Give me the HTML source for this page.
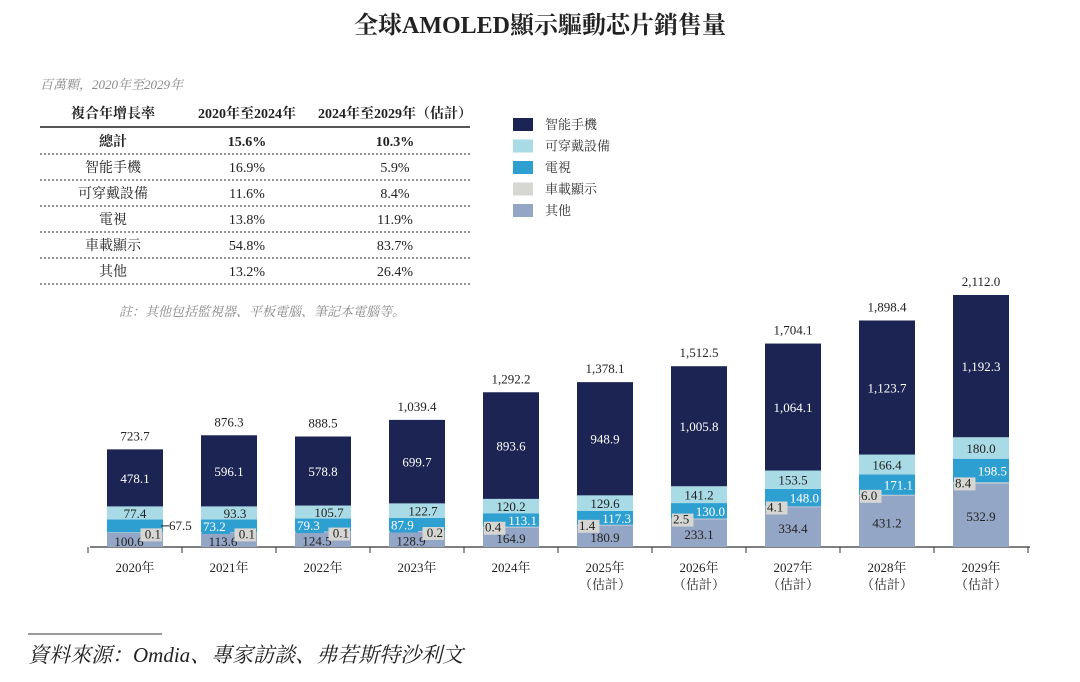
<!DOCTYPE html>
<html><head><meta charset="utf-8"><style>
body{margin:0;background:#fff;width:1080px;height:677px;overflow:hidden;font-family:"Liberation Serif","Noto Serif CJK SC",serif;}
svg text{font-family:"Liberation Serif","Noto Serif CJK SC",serif;}
</style></head><body>
<svg id="c" width="1080" height="677" viewBox="0 0 1080 677">
<text x="540" y="33" text-anchor="middle" font-size="24" font-weight="bold" fill="#222">全球AMOLED顯示驅動芯片銷售量</text>
<text x="40" y="89" font-size="13" font-style="italic" fill="#888">百萬顆，2020年至2029年</text>
<g id="tbl"></g>
<text x="262" y="316" text-anchor="middle" font-size="13" font-style="italic" fill="#888">註：其他包括監視器、平板電腦、筆記本電腦等。</text>
<g id="legend"></g>
<g id="bars"></g>
<line x1="28" y1="634" x2="162" y2="634" stroke="#333" stroke-width="1"/>
<text x="28" y="662" font-size="21" font-style="italic" fill="#222">資料來源：Omdia、專家訪談、弗若斯特沙利文</text>
</svg>
<script>
const categories=["2020年","2021年","2022年","2023年","2024年","2025年","2026年","2027年","2028年","2029年"];
const estimated=[false,false,false,false,false,true,true,true,true,true];
const other=[100.6,113.6,124.5,128.9,164.9,180.9,233.1,334.4,431.2,532.9];
const car=[0.1,0.1,0.1,0.2,0.4,1.4,2.5,4.1,6.0,8.4];
const tv=[67.5,73.2,79.3,87.9,113.1,117.3,130.0,148.0,171.1,198.5];
const wear=[77.4,93.3,105.7,122.7,120.2,129.6,141.2,153.5,166.4,180.0];
const phone=[478.1,596.1,578.8,699.7,893.6,948.9,1005.8,1064.1,1123.7,1192.3];
const totals=[723.7,876.3,888.5,1039.4,1292.2,1378.1,1512.5,1704.1,1898.4,2112.0];
const seriesNames=["智能手機","可穿戴設備","電視","車載顯示","其他"];
const tblHead=["複合年增長率","2020年至2024年","2024年至2029年（估計）"];
const tblRows=[["總計","15.6%","10.3%"],["智能手機","16.9%","5.9%"],["可穿戴設備","11.6%","8.4%"],["電視","13.8%","11.9%"],["車載顯示","54.8%","83.7%"],["其他","13.2%","26.4%"]];
const colors={phone:"#1b2452",wear:"#a9dbe6",tv:"#2e9fd1",car:"#d6d6d3",other:"#94a6c5"};
const NS="http://www.w3.org/2000/svg";
function mk(tag,attrs,parent){const e=document.createElementNS(NS,tag);for(const k in attrs)e.setAttribute(k,attrs[k]);parent.appendChild(e);return e;}
function fmt(v){return v.toLocaleString("en-US",{minimumFractionDigits:1,maximumFractionDigits:1});}
const tbl=document.getElementById("tbl");
const cx=[113,247,395];
tblHead.forEach((h,j)=>{const t=mk("text",{x:cx[j],y:118,"text-anchor":"middle","font-size":14,"font-weight":"bold",fill:"#222"},tbl);t.textContent=h;

});
const hl=mk("line",{x1:40,y1:127,x2:470,y2:127,stroke:"#555","stroke-width":2},tbl);


tblRows.forEach((r,i)=>{const y=146+i*26;
r.forEach((c,j)=>{const t=mk("text",{x:cx[j],y:y,"text-anchor":"middle","font-size":14,fill:"#222","font-weight":i==0?"bold":"normal"},tbl);t.textContent=c;

});
const l=mk("line",{x1:40,y1:y+8,x2:470,y2:y+8,stroke:"#555","stroke-width":1.2,"stroke-dasharray":"2,2"},tbl);

});
const lg=document.getElementById("legend");
const lgc=[colors.phone,colors.wear,colors.tv,colors.car,colors.other];
seriesNames.forEach((n,i)=>{const y=118+i*21.5;
const r=mk("rect",{x:513,y:y,width:20,height:13,fill:lgc[i]},lg);


const t=mk("text",{x:545,y:y+11,"font-size":13,fill:"#333"},lg);t.textContent=n;

});
const g=document.getElementById("bars");
const base=547,k=252/2112,bw=56,x0=135,step=94;
const xc=i=>x0+i*step;
const hv=(v,min)=>Math.max(v*k,min);
const ax=mk("line",{x1:90,y1:base,x2:1030,y2:base,stroke:"#333","stroke-width":1.2},g);


for(let i=0;i<=categories.length;i++){const tx=x0-step/2+i*step;const tk=mk("line",{x1:tx,y1:base,x2:tx,y2:base+6,stroke:"#333"},g);

}
function label(txt,x,y,col,anchor,bg){
 if(bg){const w=txt.length*6.5+2;const bx=anchor=="start"?x-1:anchor=="end"?x-w+1:x-w/2;const b=mk("rect",{x:bx,y:y-10,width:w,height:13,fill:bg},g);
 
 }
 const t=mk("text",{x:x,y:y,"text-anchor":anchor||"middle","font-size":13,fill:col},g);t.textContent=txt;
 
 return t;}
categories.forEach((c,i)=>{
 const x=xc(i)-bw/2;let y=base;
 const segs=[["other",other[i],14],["car",car[i],0.6],["tv",tv[i],13],["wear",wear[i],13],["phone",phone[i],0]];
 const pos={};
 segs.forEach(([key,v,mn])=>{const h=hv(v,mn);y-=h;pos[key]=[y,h];
  const r=mk("rect",{x:x,y:y,width:bw,height:h,fill:colors[key]},g);
  
  });
 const top=y;
 label(fmt(totals[i]),xc(i),top-9,"#222");
 label(fmt(phone[i]),xc(i),pos.phone[0]+pos.phone[1]/2+5,"#fff");
 label(fmt(wear[i]),xc(i)+(i<4&&i>0?6:0),pos.wear[0]+pos.wear[1]/2+5,"#222");
 label(fmt(other[i]),xc(i)-(i<4?6:0),pos.other[0]+pos.other[1]/2+6,"#222");
 if(i==0){label(fmt(tv[i]),x+bw+6,pos.tv[0]+pos.tv[1]/2+4,"#222","start");
   const ln=mk("line",{x1:x+bw-2,y1:pos.tv[0]+pos.tv[1]/2,x2:x+bw+6,y2:pos.tv[0]+pos.tv[1]/2,stroke:"#222"},g);
   
   }
 else if(i<4) label(fmt(tv[i]),x+2,pos.tv[0]+pos.tv[1]/2+5,"#fff","start",colors.tv);
 else label(fmt(tv[i]),x+bw-2,pos.tv[0]+pos.tv[1]/2+5,"#fff","end");
 if(i<4) label(fmt(car[i]),x+bw-2,pos.car[0]+6,"#222","end",colors.car);
 else label(fmt(car[i]),x+2,pos.car[0]+5,"#222","start",colors.car);
 const t=mk("text",{x:xc(i),y:base+25,"text-anchor":"middle","font-size":13,fill:"#222"},g);t.textContent=c;
 
 
 if(estimated[i]){const t2=mk("text",{x:xc(i),y:base+42,"text-anchor":"middle","font-size":13,fill:"#222"},g);t2.textContent="（估計）";
 
 }
});
</script>
</body></html>
